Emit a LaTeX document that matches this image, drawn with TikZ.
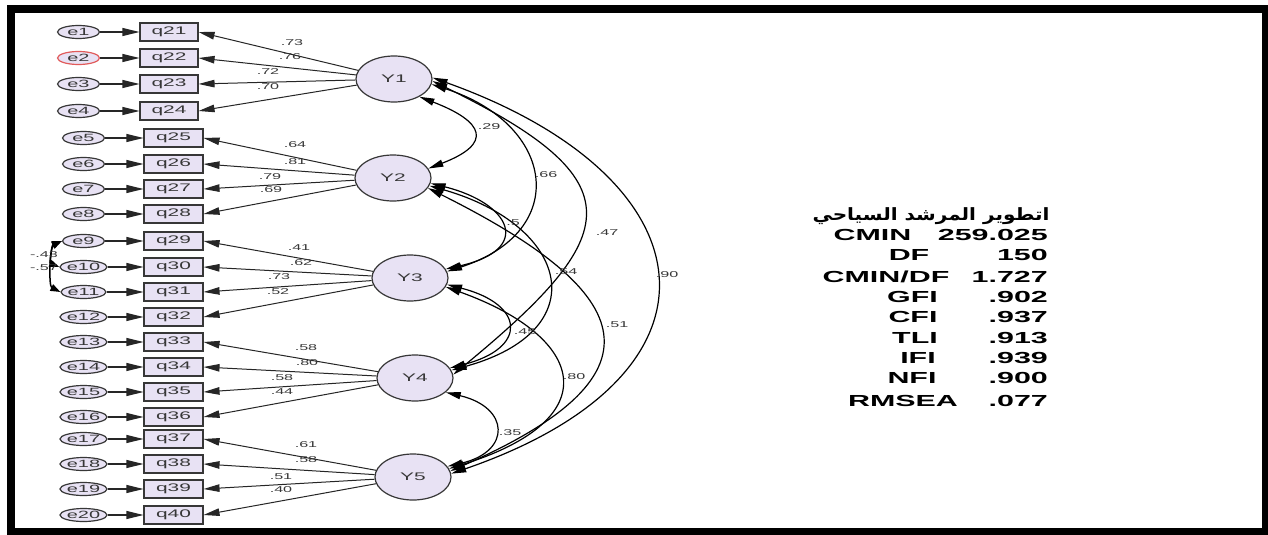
\documentclass[tikz,border=0pt]{standalone}
\usepackage{fontspec}
\usepackage{graphicx}
\setmainfont{Liberation Sans}
\newfontfamily\arabicfont[Script=Arabic]{DejaVu Sans}
\TeXXeTstate=1
\usetikzlibrary{arrows.meta,shapes.geometric}
\definecolor{lav}{RGB}{232,226,244}
\definecolor{ink}{RGB}{55,55,55}
\definecolor{redo}{RGB}{225,90,90}
\newcommand{\sx}[1]{\scalebox{1.9}[1]{#1}}
\begin{document}
\begin{tikzpicture}[x=1pt,y=-1pt,
  enode/.style={ellipse, draw=ink, line width=1.2pt, fill=lav, minimum width=42pt, minimum height=13pt, inner sep=0pt, font=\fontsize{10.5}{10.5}\selectfont, text=ink},
  qbox/.style={rectangle, draw=ink, line width=1.1pt, fill=lav, minimum width=58pt, minimum height=18pt, inner sep=0pt, font=\fontsize{11}{11}\selectfont, text=ink},
  ynode/.style={ellipse, draw=ink, line width=1.2pt, fill=lav, minimum width=76pt, minimum height=46pt, inner sep=0pt, font=\fontsize{11}{11}\selectfont, text=ink},
  earrow/.style={line width=1.1pt, draw=black!85, -{Triangle[length=17pt,width=8pt]}},
  load/.style={line width=1pt, draw=black!85, -{Triangle[length=16pt,width=7.5pt]}},
  cov/.style={line width=1.2pt, draw=black, {Triangle[length=15pt,width=7pt]}-{Triangle[length=15pt,width=7pt]}},
  ecov/.style={line width=1.5pt, draw=black, {Triangle[length=10pt,width=7pt]}-{Triangle[length=10pt,width=7pt]}},
  lbl/.style={font=\fontsize{8.5}{8.5}\selectfont, text=ink, inner sep=0pt},
  tbl/.style={font=\fontsize{16}{16}\selectfont\bfseries, text=black, inner sep=0pt, anchor=base},
  tblv/.style={font=\fontsize{16}{16}\selectfont\bfseries, text=black, inner sep=0pt, anchor=base east}
]
\useasboundingbox (0,0) rectangle (1268,535);
\fill[black] (7,5) rectangle (1268,535);
\fill[white] (15,13) rectangle (1262,528);

% indicator boxes and error ellipses
\foreach \i/\yy in {1/32,2/58,3/84,4/111}{
  \pgfmathtruncatemacro\qq{\i+20}
  \def\ecol{ink}\ifnum\i=2 \def\ecol{redo}\fi
  \node[qbox] (q\qq) at (169,\yy) {\sx{q\qq}};
  \node[enode, draw=\ecol] (e\i) at (78.5,\yy) {\sx{e\i}};
}
\foreach \i/\yy in {5/138,6/164,7/189,8/214,9/241,10/267,11/292,12/317,13/342,14/367,15/392,16/417,17/439,18/464,19/489,20/515}{
  \pgfmathtruncatemacro\qq{\i+20}
  \node[qbox, minimum width=59pt] (q\qq) at (173.5,\yy) {\sx{q\qq}};
  \node[enode] (e\i) at (83.5,\yy) {\sx{e\i}};
}
\foreach \i in {1,...,20}{
  \pgfmathtruncatemacro\qq{\i+20}
  \draw[earrow] (e\i) -- (q\qq);
}

% latent factors
\node[ynode] (Y1) at (394,79) {\sx{Y1}};
\node[ynode] (Y2) at (393,178) {\sx{Y2}};
\node[ynode] (Y3) at (410,278) {\sx{Y3}};
\node[ynode] (Y4) at (415,378) {\sx{Y4}};
\node[ynode] (Y5) at (413,477) {\sx{Y5}};

% loadings
\foreach \q/\Y in {21/1,22/1,23/1,24/1,25/2,26/2,27/2,28/2,29/3,30/3,31/3,32/3,33/4,34/4,35/4,36/4,37/5,38/5,39/5,40/5}{
  \draw[load] (Y\Y) -- (q\q.east);
}
\foreach \n/\x/\y/\t in {a1/292/43/.73,a2/290/57/.76,a3/268/72/.72,a4/268/87/.70,
  b1/295/145/.64,b2/295/162/.81,b3/270/177/.79,b4/271/190/.69,
  c1/299/248/.41,c2/301/263/.62,c3/279/277/.73,c4/278/292/.52,
  d1/306/348/.58,d2/307/363/.80,d3/282/378/.58,d4/282/392/.44,
  f1/306/445/.61,f2/306/460/.58,f3/281/477/.51,f4/281/490/.40}{
  \node[lbl] (l\n) at (\x,\y) {\sx{\t}};
}

% error covariances
\draw[ecov] (e9.west) .. controls +(-10,4) and +(-10,-4) .. (e10.west);
\draw[ecov] (e9.west) .. controls +(-12,6) and +(-12,-6) .. (e11.west);
\node[lbl] (c910) at (44,255) {\sx{-.43}};
\node[lbl] (c911) at (44,268) {\sx{-.57}};

% factor covariances
\draw[cov] (Y1.-35) .. controls +(65,25) and +(65,-25) .. (Y2.15);
\draw[cov] (Y1.-8) .. controls +(124,40) and +(124,-40) .. (Y3.10);
\draw[cov] (Y1.-3) .. controls +(205,100) and +(170,-140) .. (Y4.5);
\draw[cov] (Y1.2) .. controls +(280,100) and +(290,-100) .. (Y5.5);
\draw[cov] (Y2.-8) .. controls +(80,20) and +(88,-20) .. (Y3.14);
\draw[cov] (Y2.-12) .. controls +(140,40) and +(145,-40) .. (Y4.12);
\draw[cov] (Y2.-16) .. controls +(200,100) and +(228,-100) .. (Y5.9);
\draw[cov] (Y3.-10) .. controls +(78,20) and +(78,-20) .. (Y4.16);
\draw[cov] (Y3.-14) .. controls +(140,50) and +(160,-50) .. (Y5.13);
\draw[cov] (Y4.-25) .. controls +(64,15) and +(64,-15) .. (Y5.17);
\node[lbl] (k12) at (489,127) {\sx{.29}};
\node[lbl] (k13) at (546,175) {\sx{.66}};
\node[lbl] (k14) at (607,233) {\sx{.47}};
\node[lbl] (k15) at (667,275) {\sx{.90}};
\node[lbl] (k23) at (513,223) {\sx{.5}};
\node[lbl] (k24) at (566,272) {\sx{.54}};
\node[lbl] (k25) at (617,325) {\sx{.51}};
\node[lbl] (k34) at (525,332) {\sx{.45}};
\node[lbl] (k35) at (574,377) {\sx{.80}};
\node[lbl] (k45) at (510,433) {\sx{.35}};

% fit table
\node[inner sep=0pt] (title) at (931,216) {\resizebox*{237pt}{17pt}{\arabicfont\bfseries\beginR اتطوير المرشد السياحي\endR}};
\node[tbl] (t1) at (872.5,240) {\sx{CMIN}};
\node[tblv] (v1) at (1048,240) {\sx{259.025}};
\node[tbl] (t2) at (909,260) {\sx{DF}};
\node[tblv] (v2) at (1048,260) {\sx{150}};
\node[tbl] (t3) at (886,282) {\sx{CMIN/DF}};
\node[tblv] (v3) at (1048,282) {\sx{1.727}};
\node[tbl] (t4) at (912.5,302) {\sx{GFI}};
\node[tblv] (v4) at (1048,302) {\sx{.902}};
\node[tbl] (t5) at (913,322) {\sx{CFI}};
\node[tblv] (v5) at (1048,322) {\sx{.937}};
\node[tbl] (t6) at (915,343) {\sx{TLI}};
\node[tblv] (v6) at (1048,343) {\sx{.913}};
\node[tbl] (t7) at (918,363) {\sx{IFI}};
\node[tblv] (v7) at (1048,363) {\sx{.939}};
\node[tbl] (t8) at (912,383) {\sx{NFI}};
\node[tblv] (v8) at (1048,383) {\sx{.900}};
\node[tbl] (t9) at (903,406) {\sx{RMSEA}};
\node[tblv] (v9) at (1048,406) {\sx{.077}};
\end{tikzpicture}
\end{document}
